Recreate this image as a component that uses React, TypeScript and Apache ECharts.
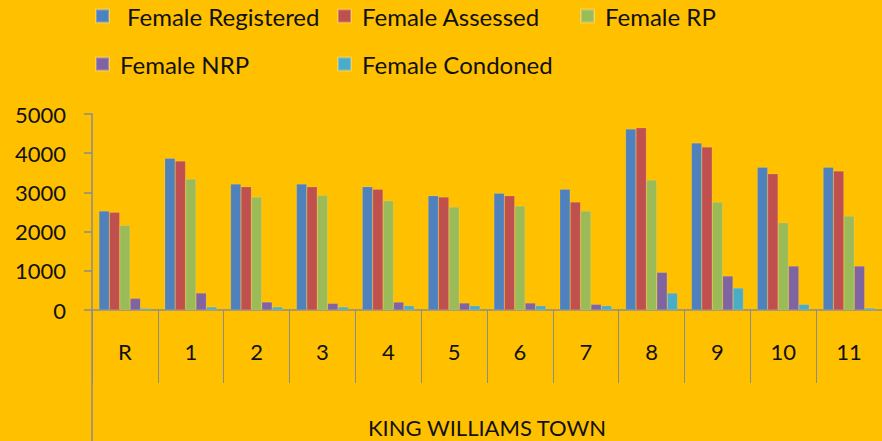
import React, { useEffect, useRef } from "react";
import * as echarts from "echarts";

const categories = ["R", "1", "2", "3", "4", "5", "6", "7", "8", "9", "10", "11"];
const seriesNames = ["Female Registered", "Female Assessed", "Female RP", "Female NRP", "Female Condoned"];
const femaleRegistered = [2525, 3869, 3214, 3214, 3146, 2917, 2976, 3078, 4617, 4260, 3640, 3640];
const femaleAssessed = [2492, 3801, 3146, 3146, 3078, 2883, 2917, 2755, 4651, 4158, 3478, 3546];
const femaleRP = [2160, 3342, 2883, 2925, 2789, 2628, 2653, 2525, 3316, 2755, 2228, 2398];
const femaleNRP = [298, 434, 204, 170, 202, 179, 179, 145, 961, 867, 1122, 1122];
const femaleCondoned = [42, 77, 77, 77, 110, 110, 110, 110, 434, 561, 145, 51];
const colors = ["#4F81BD", "#C0504D", "#9BBB59", "#8064A2", "#4BACC6"];
const groupLabel = "KING WILLIAMS TOWN";

const FONT = "Lato";

export default function App() {
  const ref = useRef<HTMLDivElement>(null);
  useEffect(() => {
    if (!ref.current) return;
    const chart = echarts.init(ref.current, null, { renderer: "svg" });
    const values = [femaleRegistered, femaleAssessed, femaleRP, femaleNRP, femaleCondoned];
    const legendPos = [
      { left: 95, top: 4, pad: 13 },
      { left: 337, top: 4, pad: 6 },
      { left: 580, top: 4, pad: 6 },
      { left: 95, top: 52, pad: 6 },
      { left: 337, top: 52, pad: 6 },
    ];
    const gray = "#8C8C8C";
    chart.setOption({
      animation: false,
      backgroundColor: "#FFC000",
      legend: seriesNames.map((n, i) => ({
        data: [n],
        left: legendPos[i].left,
        top: legendPos[i].top,
        icon: "rect",
        itemWidth: 13,
        itemHeight: 13,
        padding: 0,
        textStyle: {
          fontFamily: FONT,
          fontSize: 24,
          color: "#111",
          padding: [0, 0, 0, legendPos[i].pad],
        },
      })),
      grid: { left: 92, top: 114, width: 790, height: 196, outerBoundsMode: "none", containLabel: false },
      xAxis: {
        type: "category",
        data: categories,
        boundaryGap: true,
        axisLine: { show: true, lineStyle: { color: gray, width: 1.5 } },
        axisTick: { show: true, interval: 0, length: 73, lineStyle: { color: gray, width: 1 } },
        axisLabel: { interval: 0, margin: 30, fontFamily: FONT, fontSize: 22, color: "#111" },
        name: groupLabel,
        nameLocation: "middle",
        nameGap: 106,
        nameTextStyle: { fontFamily: FONT, fontSize: 22, color: "#111" },
      },
      yAxis: {
        type: "value",
        min: 0,
        max: 5000,
        interval: 1000,
        axisLine: { show: true, lineStyle: { color: gray, width: 1.5 } },
        axisTick: { show: true, inside: false, length: 8, lineStyle: { color: gray, width: 1.5 } },
        splitLine: { show: false },
        axisLabel: {
          margin: 26,
          fontFamily: FONT,
          fontSize: 22,
          color: "#111",
          formatter: (v: number) => String(v),
        },
      },
      graphic: [
        {
          type: "line",
          shape: { x1: 92, y1: 310, x2: 92, y2: 441 },
          style: { stroke: gray, lineWidth: 1.5 },
        },
      ],
      series: seriesNames.map((n, i) => ({
        name: n,
        type: "bar",
        data: values[i],
        barWidth: 10.4,
        barGap: "0%",
        itemStyle: { color: colors[i], borderColor: "rgba(255,255,255,0.25)", borderWidth: 0.5 },
      })),
    });
    return () => chart.dispose();
  }, []);
  return <div ref={ref} style={{ width: 882, height: 441, position: "absolute", left: 0, top: 0 }} />;
}
